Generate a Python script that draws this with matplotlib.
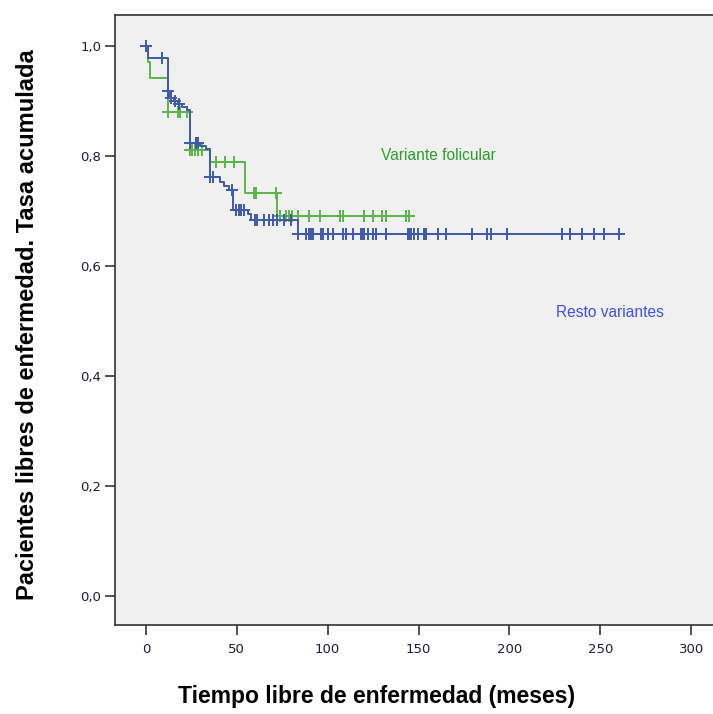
import numpy as np
import matplotlib
matplotlib.use("Agg")
import matplotlib.pyplot as plt

# ---- data ----
# Variante folicular
fol_event_times = [1, 2, 12, 24, 35, 54.5, 72]
fol_surv = [0.97, 0.942, 0.88, 0.81, 0.788, 0.733, 0.69]
fol_end = 147
fol_censor = [12, 17.5, 19, 22.5, 24.5, 25.5, 27, 28.5, 31, 38.5, 43.5, 48.5,
              59.5, 60.5, 71.5, 74, 77, 79, 80.5, 83.5, 90, 96, 107, 108.5,
              120, 125, 130, 132, 143, 145]

# Resto variantes
res_event_times = [1, 12, 13.5, 15.5, 17.5, 20, 22.5, 24.5, 29.5, 33, 35.5,
                   40.5, 43, 45.5, 48, 56, 58, 83.5]
res_surv = [0.978, 0.917, 0.905, 0.899, 0.894, 0.889, 0.884, 0.823, 0.818,
            0.813, 0.762, 0.752, 0.745, 0.738, 0.702, 0.695, 0.684, 0.658]
res_end = 263
res_censor = [0, 9, 12, 14, 16, 18, 24.5, 27.5, 28.5, 35.5, 37, 47.5, 49.5,
              51, 52.5, 54, 60, 61, 65, 67.5, 70, 72, 76, 80,
              83.6, 88.2, 89.6, 91, 92.2, 96.4, 97.3, 100, 102.8, 108.2, 110.1,
              113.7, 118.3, 119.2, 120.1, 122, 124.7, 126.6, 132.1, 144, 145,
              145.9, 147.7, 149.5, 153.2, 154.1, 160.5, 165.1, 179.6, 187.8,
              189.7, 198.8, 229, 233.6, 240, 246.4, 251.9, 260.2]

x_ticks = [0, 50, 100, 150, 200, 250, 300]
y_ticks = [0.0, 0.2, 0.4, 0.6, 0.8, 1.0]
y_tick_labels = ["0,0", "0,2", "0,4", "0,6", "0,8", "1,0"]

label_fol = "Variante folicular"
label_res = "Resto variantes"
xlabel = "Tiempo libre de enfermedad (meses)"
ylabel = "Pacientes libres de enfermedad. Tasa acumulada"

green = "#5cb54a"
blue = "#3f5aa8"


def step_arrays(times, surv, end):
    t = np.array([0] + list(times) + [end], dtype=float)
    s = np.array([1.0] + list(surv) + [surv[-1]], dtype=float)
    return t, s


def surv_at(times, surv, tc):
    t = np.array([0] + list(times), dtype=float)
    s = np.array([1.0] + list(surv), dtype=float)
    idx = np.searchsorted(t, np.asarray(tc, dtype=float), side="right") - 1
    return s[idx]


fig = plt.figure(figsize=(7.13, 7.14), dpi=100)
ax = fig.add_axes([0.1613, 0.1246, 0.8387, 0.8544])
ax.set_facecolor("#f0f0f0")

for times, surv, end, cens, col, z in [
    (res_event_times, res_surv, res_end, res_censor, blue, 3),
    (fol_event_times, fol_surv, fol_end, fol_censor, green, 2),
]:
    t, s = step_arrays(times, surv, end)
    ax.plot(t, s, drawstyle="steps-post", color=col, lw=1.4, zorder=z)
    ax.plot(cens, surv_at(times, surv, cens), linestyle="none", marker="+",
            ms=8, mew=1.4, color=col, zorder=z)

ax.set_xlim(-17, 312)
ax.set_ylim(-0.053, 1.056)
ax.set_xticks(x_ticks)
ax.set_xticklabels([str(v) for v in x_ticks])
ax.set_yticks(y_ticks)
ax.set_yticklabels(y_tick_labels)

ax.tick_params(axis="both", direction="out", length=7, width=1.2,
               colors="#333333", labelsize=9.5, labelcolor="#1c1c3c", pad=3)
ax.tick_params(axis="x", pad=6)
for sp in ["left", "bottom", "top"]:
    ax.spines[sp].set_color("#333333")
    ax.spines[sp].set_linewidth(1.2)
ax.spines["right"].set_visible(False)

ax.text(129.5, 0.80, label_fol, color="#2e9e2e", fontsize=11.2,
        family="Liberation Sans", va="center", ha="left")
ax.text(225.6, 0.516, label_res, color="#3d52e6", fontsize=11.2,
        family="Liberation Sans", va="center", ha="left")

fig.text(0.5 * (175 + 578) / 713, 1 - 697 / 714, xlabel, ha="center",
         va="center", fontsize=16.5, fontweight="bold", family="Liberation Sans")
fig.text(28 / 713, 1 - 325 / 714, ylabel, ha="center", va="center",
         rotation=90, fontsize=17, fontweight="bold", family="Liberation Sans")

fig.savefig("out.png", dpi=100, facecolor="white")
